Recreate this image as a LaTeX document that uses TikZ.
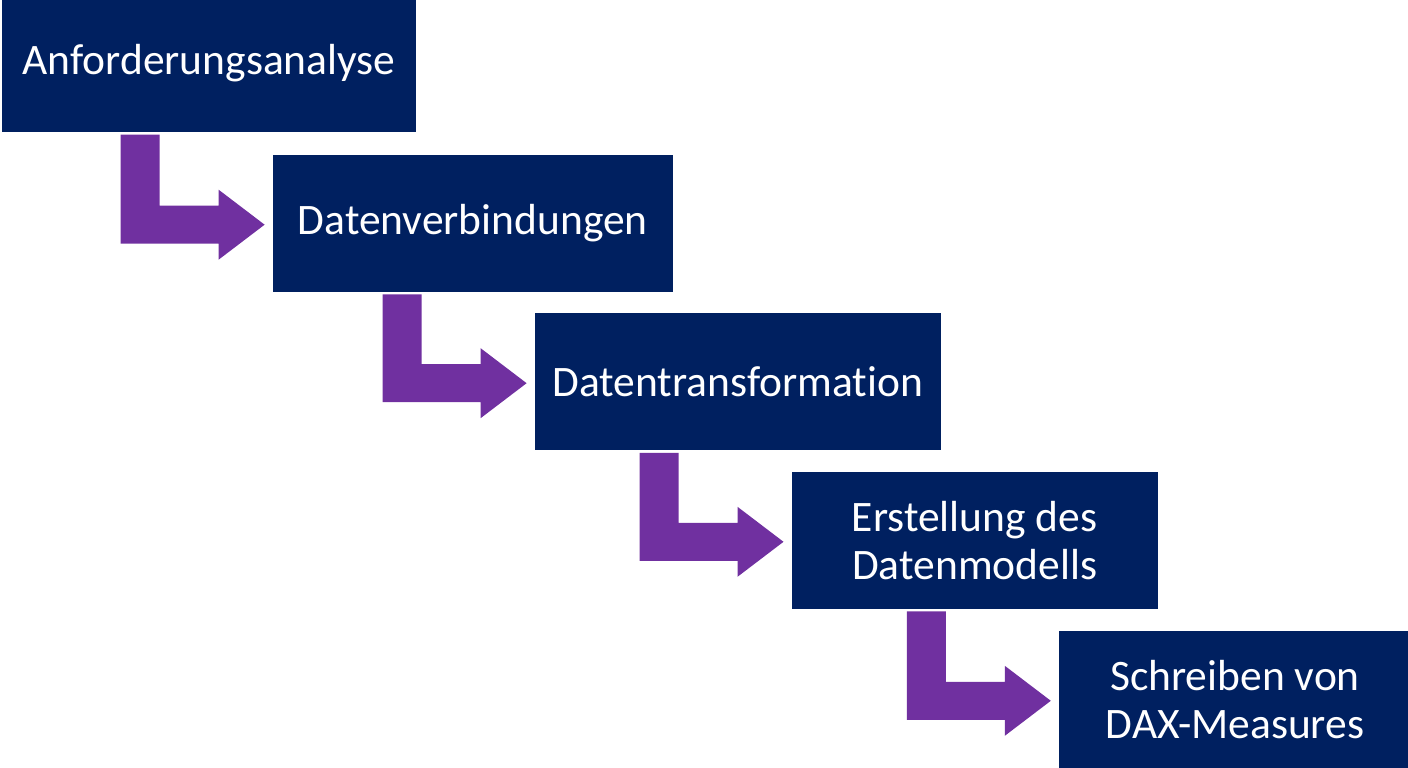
\documentclass[tikz,border=0pt]{standalone}
\usepackage{fontspec}
\setmainfont{Carlito}[Ligatures=NoCommon]
\usetikzlibrary{calc,positioning}
\definecolor{navy}{HTML}{002060}
\definecolor{stairpurple}{HTML}{7030A0}

\begin{document}
\begin{tikzpicture}[
        x=1pt, y=1pt,
        stage/.style={
            fill=navy,
            text=white,
            align=center,
            minimum height=137pt,
            inner sep=0pt,
            font=\fontsize{43.5}{48}\selectfont
        },
        stairs/.style={fill=stairpurple}
    ]

    \useasboundingbox (0,0) rectangle (1408,768);

    \node[stage, minimum width=414pt] (req) at (209,704.5) {Anforderungsanalyse};
    \node[stage, minimum width=400pt] (conn) at (472.8,544.8) {Datenverbindungen};
    \node[stage, minimum width=406pt] (trans) at (737.8,386.3) {Datentransformation};
    \node[stage, minimum width=366pt] (model) at (974.7,227.7) {Erstellung des\\Datenmodells};
    \node[stage, minimum width=352pt] (dax) at (1235,68.7) {Schreiben von\\DAX-Measures};

    % L-shaped step arrows
    \foreach \src/\dst in {req/conn, conn/trans, trans/model, model/dax}
        \fill[stairs] let \p1=($(\dst.west)+(-8,-1.5)$), \p2=(\src.south) in
            (\x1-144pt,\y2-2.5pt) -- (\x1-105pt,\y2-2.5pt) -- (\x1-105pt,\y1+19pt)
            -- (\x1-46pt,\y1+19pt) -- (\x1-46pt,\y1+35pt) -- (\x1,\y1)
            -- (\x1-46pt,\y1-35pt) -- (\x1-46pt,\y1-19pt) -- (\x1-144pt,\y1-19pt) -- cycle;

\end{tikzpicture}
\end{document}
